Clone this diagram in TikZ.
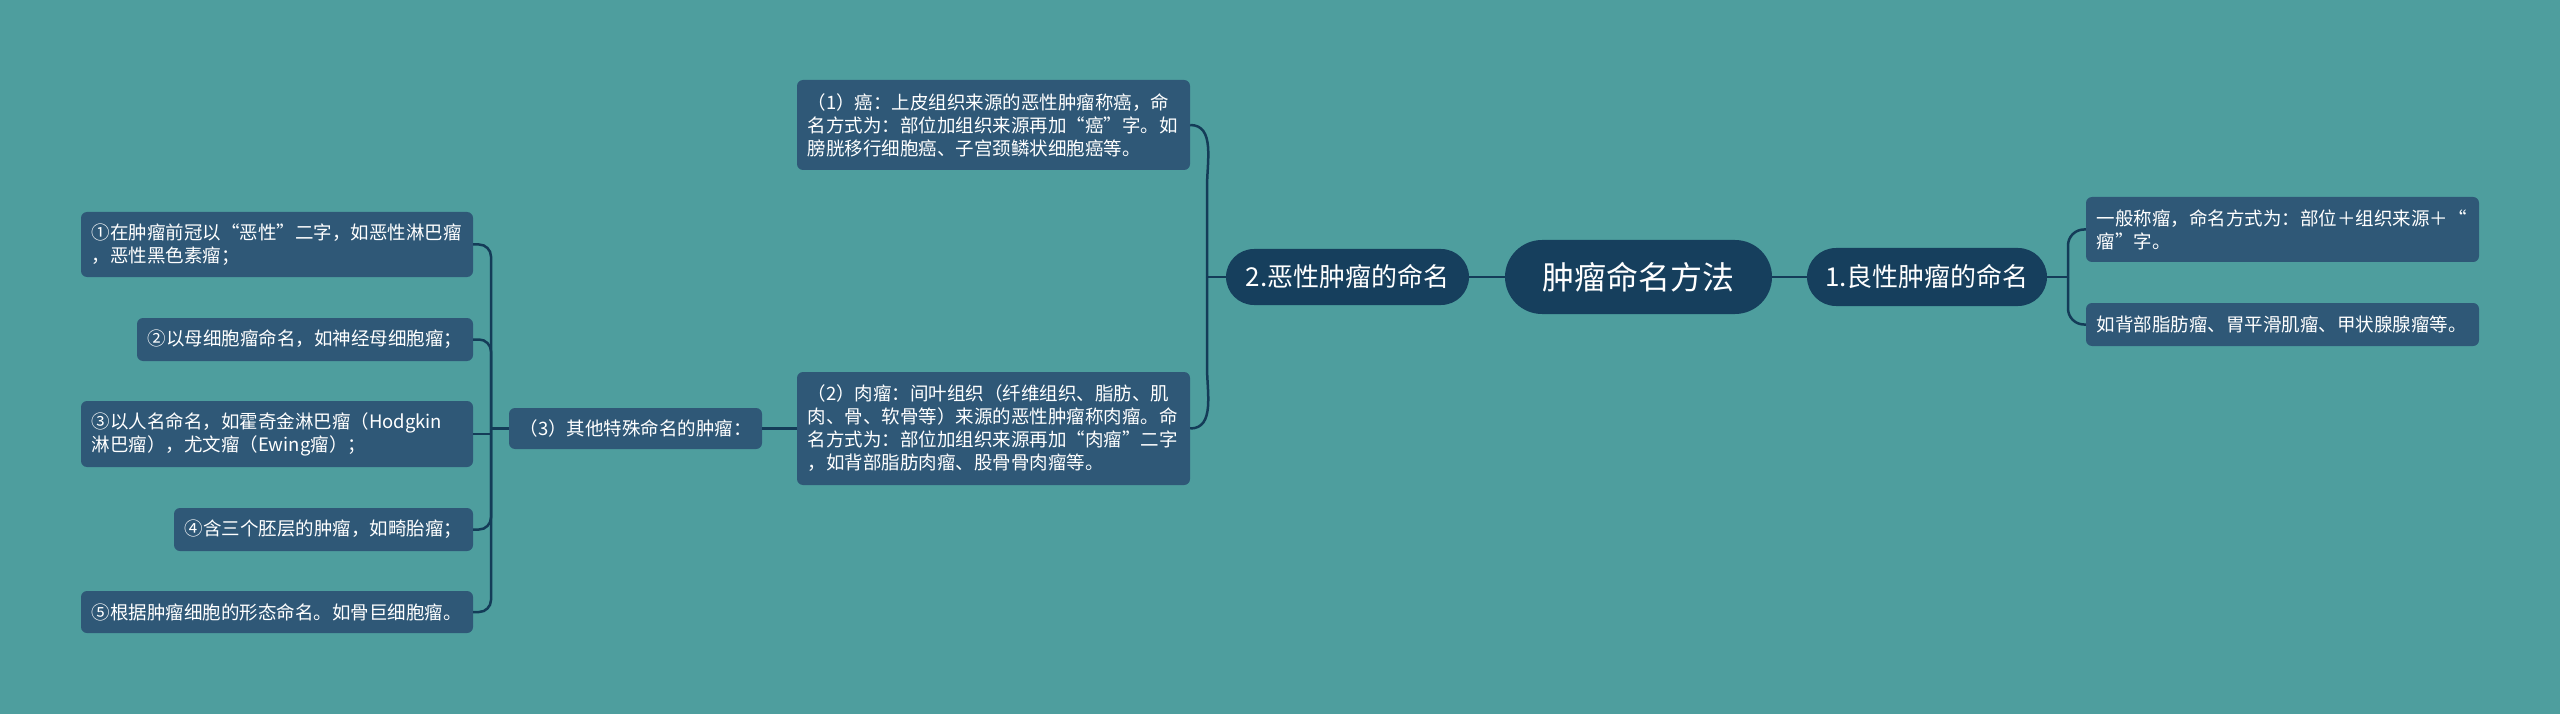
\documentclass[tikz,border=0pt]{standalone}
\usepackage{fontspec}
\setmainfont{Noto Sans CJK SC}
\definecolor{bgc}{HTML}{4E9E9E}
\definecolor{boxc}{HTML}{2F5877}
\definecolor{mainc}{HTML}{163F5D}
\definecolor{linec}{HTML}{143C58}
\tikzset{
  leaf/.style={fill=boxc, text=white, rounded corners=6pt, inner xsep=10.5pt, inner ysep=0pt,
    align=left, font=\fontsize{18.5pt}{23pt}\selectfont},
  topic/.style={fill=mainc, text=white, inner sep=0pt, align=center},
  conn/.style={draw=linec, line width=2.5pt},
}
\begin{document}
\begin{tikzpicture}[x=1pt,y=-1pt]
\fill[bgc] (0,0) rectangle (2560,714);
\useasboundingbox (0,0) rectangle (2560,714);

% main topics
\node[topic, minimum width=267pt, minimum height=74pt, rounded corners=37pt,
  font=\fontsize{32pt}{36pt}\selectfont] (root) at (1638.5,277) {肿瘤命名方法};
\node[topic, minimum width=240pt, minimum height=58pt, rounded corners=29pt,
  font=\fontsize{26pt}{30pt}\selectfont] (ben) at (1927,277) {1.良性肿瘤的命名};
\node[topic, minimum width=243pt, minimum height=56pt, rounded corners=28pt,
  font=\fontsize{26pt}{30pt}\selectfont] (mal) at (1347.5,277) {2.恶性肿瘤的命名};

% right leaves
\node[leaf, text width=372pt, minimum height=65pt] (r1) at (2282.5,229.5)
  {一般称瘤，命名方式为：部位＋组织来源＋“\\瘤”字。};
\node[leaf, text width=372pt, minimum height=43pt] (r2) at (2282.5,324.5)
  {如背部脂肪瘤、胃平滑肌瘤、甲状腺腺瘤等。};

% middle leaves
\node[leaf, text width=372pt, minimum height=90pt] (m1) at (993.5,125)
  {（1）癌：上皮组织来源的恶性肿瘤称癌，命\\名方式为：部位加组织来源再加“癌”字。如\\膀胱移行细胞癌、子宫颈鳞状细胞癌等。};
\node[leaf, text width=372pt, minimum height=113pt] (m2) at (993.5,428.5)
  {（2）肉瘤：间叶组织（纤维组织、脂肪、肌\\肉、骨、软骨等）来源的恶性肿瘤称肉瘤。命\\名方式为：部位加组织来源再加“肉瘤”二字\\，如背部脂肪肉瘤、股骨骨肉瘤等。};
\node[leaf, text width=232pt, minimum height=41pt] (m3) at (635.5,428.5)
  {（3）其他特殊命名的肿瘤：};

% left leaves
\node[leaf, text width=371pt, minimum height=65pt] (c1) at (277,244.5)
  {①在肿瘤前冠以“恶性”二字，如恶性淋巴瘤\\，恶性黑色素瘤；};
\node[leaf, text width=315pt, minimum height=43pt] (c2) at (305,339.5)
  {②以母细胞瘤命名，如神经母细胞瘤；};
\node[leaf, text width=371pt, minimum height=66pt] (c3) at (277,434)
  {③以人名命名，如霍奇金淋巴瘤（Hodgkin\\淋巴瘤），尤文瘤（Ewing瘤）；};
\node[leaf, text width=278pt, minimum height=43pt] (c4) at (323.5,529.5)
  {④含三个胚层的肿瘤，如畸胎瘤；};
\node[leaf, text width=371pt, minimum height=42pt] (c5) at (277,612)
  {⑤根据肿瘤细胞的形态命名。如骨巨细胞瘤。};

% junctions
\coordinate (jR) at (2068,277);
\coordinate (jM) at (1207,277);
\coordinate (jL) at (491,428.5);

% connectors
\draw[conn] (root.west) -- (mal.east);
\draw[conn] (root.east) -- (ben.west);

\draw[conn] (ben.east) -- (jR);
\draw[conn, rounded corners=16pt] (jR) |- (r1.west);
\draw[conn, rounded corners=16pt] (jR) |- (r2.west);

\draw[conn] (mal.west) -- (jM);
\draw[conn] (jM) -- ++(0,-90) to[out=90,in=0] (m1.east);
\draw[conn] (jM) -- ++(0,90) to[out=-90,in=0] (m2.east);

\draw[conn] (m2.west) -- (m3.east);
\draw[conn] (m3.west) -- (jL);
\draw[conn, rounded corners=12pt] (jL) |- (c1.east);
\draw[conn, rounded corners=12pt] (jL) |- (c2.east);
\draw[conn] (c3.east) -- (jL |- c3.east);
\draw[conn, rounded corners=12pt] (jL) |- (c4.east);
\draw[conn, rounded corners=12pt] (jL) |- (c5.east);
\end{tikzpicture}
\end{document}
